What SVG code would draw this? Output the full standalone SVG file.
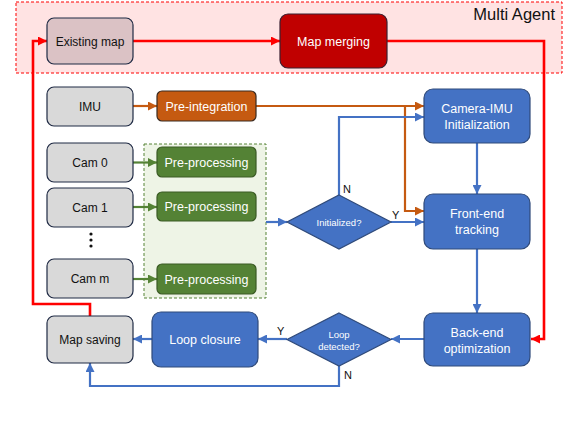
<svg xmlns="http://www.w3.org/2000/svg" width="564" height="422" viewBox="0 0 564 422">
<style>
.t{font-family:"Liberation Sans",Arial,sans-serif;text-anchor:middle}
.dk{fill:#111}
.wt{fill:#fff}
.gray{fill:#D9D9D9;stroke:#1F2A44;stroke-width:1.2}
.blue{fill:#4472C4;stroke:#2F4A7A;stroke-width:1.2}
.green{fill:#548235;stroke:#3A5A24;stroke-width:1.2}
.orange{fill:#C55A11;stroke:#3A2A20;stroke-width:1.2}
.red{fill:#C00000;stroke:#3A2030;stroke-width:1.2}
.lr{fill:none;stroke:#FF0000;stroke-width:2.6}
.lo{fill:none;stroke:#C55A11;stroke-width:2.2}
.lb{fill:none;stroke:#4472C4;stroke-width:2.2}
.lg{fill:none;stroke:#548235;stroke-width:2.2}
.lbl{font-family:"Liberation Sans",Arial,sans-serif;font-size:11px;fill:#111}
</style>
<defs>
<marker id="ar" viewBox="0 0 10 10" refX="10" refY="5" markerWidth="9" markerHeight="9" markerUnits="userSpaceOnUse" orient="auto"><path d="M0,0 L10,5 L0,10 z" fill="#FF0000"/></marker>
<marker id="ao" viewBox="0 0 10 10" refX="10" refY="5" markerWidth="9" markerHeight="9" markerUnits="userSpaceOnUse" orient="auto"><path d="M0,0 L10,5 L0,10 z" fill="#C55A11"/></marker>
<marker id="ab" viewBox="0 0 10 10" refX="10" refY="5" markerWidth="9" markerHeight="9" markerUnits="userSpaceOnUse" orient="auto"><path d="M0,0 L10,5 L0,10 z" fill="#4472C4"/></marker>
<marker id="ag" viewBox="0 0 10 10" refX="10" refY="5" markerWidth="9" markerHeight="9" markerUnits="userSpaceOnUse" orient="auto"><path d="M0,0 L10,5 L0,10 z" fill="#548235"/></marker>
</defs>
<rect width="564" height="422" fill="#fff"/>
<g id="multi-agent">
<rect x="16" y="2" width="546" height="71" fill="#FFE3E3" stroke="#FF0000" stroke-width="1" stroke-dasharray="3,2"/>
<text x="555" y="20" font-family="Liberation Sans,Arial,sans-serif" font-size="16.5" text-anchor="end" fill="#111">Multi Agent</text>
</g>
<g id="camera-group">
<rect x="144" y="144" width="122" height="154" fill="#EEF4E6" stroke="#548235" stroke-width="1" stroke-dasharray="3,2"/>
</g>
<g id="connectors">
<path class="lr" d="M133,41 H280" marker-end="url(#ar)"/>
<path class="lr" d="M387,41 H544 V339 H531" marker-end="url(#ar)"/>
<path class="lr" d="M90,316 V304 H33 V41 H47" marker-end="url(#ar)"/>
<path class="lo" d="M133,106 H157" marker-end="url(#ao)"/>
<path class="lo" d="M256,106 H424" marker-end="url(#ao)"/>
<path class="lo" d="M405,106 V211 H424" marker-end="url(#ao)"/>
<path class="lg" d="M133,162.5 H157" marker-end="url(#ag)"/>
<path class="lg" d="M133,207 H157" marker-end="url(#ag)"/>
<path class="lg" d="M133,279 H157" marker-end="url(#ag)"/>
<path class="lb" d="M339,195 V117 H424" marker-end="url(#ab)"/>
<path class="lb" d="M266,222 H287" marker-end="url(#ab)"/>
<path class="lb" d="M391,222 H424" marker-end="url(#ab)"/>
<path class="lb" d="M477,143 V194" marker-end="url(#ab)"/>
<path class="lb" d="M477,249 V313" marker-end="url(#ab)"/>
<path class="lb" d="M424,339 H391" marker-end="url(#ab)"/>
<path class="lb" d="M287,339 H258" marker-end="url(#ab)"/>
<path class="lb" d="M152,339 H133" marker-end="url(#ab)"/>
<path class="lb" d="M339,366 V386 H90 V363" marker-end="url(#ab)"/>
<text class="lbl" x="343" y="193">N</text>
<text class="lbl" x="392" y="219">Y</text>
<text class="lbl" x="277" y="335">Y</text>
<text class="lbl" x="344" y="379">N</text>
</g>
<g id="existing-map"><rect class="gray" x="47" y="18" width="86" height="46" rx="7" fill="#DBC2C5" style="fill:#DBC2C5"/><text class="t dk" x="90" y="45.5" font-size="12">Existing map</text></g>
<g id="map-merging"><rect class="red" x="280" y="14" width="107" height="54" rx="8"/><text class="t wt" x="333.5" y="45.5" font-size="12.5">Map merging</text></g>
<g id="imu"><rect class="gray" x="47" y="87" width="86" height="39" rx="7"/><text class="t dk" x="90" y="111" font-size="12">IMU</text></g>
<g id="pre-integration"><rect class="orange" x="157" y="91" width="99" height="30" rx="5"/><text class="t wt" x="206.5" y="110.5" font-size="12.5">Pre-integration</text></g>
<g id="cam0"><rect class="gray" x="47" y="143" width="86" height="39" rx="7"/><text class="t dk" x="90" y="167" font-size="12">Cam 0</text></g>
<g id="cam1"><rect class="gray" x="47" y="188" width="86" height="39" rx="7"/><text class="t dk" x="90" y="212" font-size="12">Cam 1</text></g>
<g id="dots"><circle cx="91" cy="234" r="1.6" fill="#111"/><circle cx="91" cy="240" r="1.6" fill="#111"/><circle cx="91" cy="246" r="1.6" fill="#111"/></g>
<g id="camm"><rect class="gray" x="47" y="259" width="86" height="39" rx="7"/><text class="t dk" x="90" y="283" font-size="12">Cam m</text></g>
<g id="pre-processing-0"><rect class="green" x="157" y="147" width="99" height="30" rx="5"/><text class="t wt" x="206.5" y="166.5" font-size="12.5">Pre-processing</text></g>
<g id="pre-processing-1"><rect class="green" x="157" y="192" width="99" height="29" rx="5"/><text class="t wt" x="206.5" y="211" font-size="12.5">Pre-processing</text></g>
<g id="pre-processing-m"><rect class="green" x="157" y="264" width="99" height="30" rx="5"/><text class="t wt" x="206.5" y="283.5" font-size="12.5">Pre-processing</text></g>
<g id="camera-imu-init"><rect class="blue" x="424" y="89" width="106" height="54" rx="9"/><text class="t wt" x="477" y="113" font-size="12.5">Camera-IMU</text><text class="t wt" x="477" y="129" font-size="12.5">Initialization</text></g>
<g id="initialized"><polygon class="blue" points="339,195 391,222 339,249 287,222"/><text class="t wt" x="339" y="225.5" font-size="9.5">Initialized?</text></g>
<g id="front-end"><rect class="blue" x="424" y="194" width="106" height="55" rx="9"/><text class="t wt" x="477" y="218" font-size="12.5">Front-end</text><text class="t wt" x="477" y="234" font-size="12.5">tracking</text></g>
<g id="back-end"><rect class="blue" x="424" y="313" width="106" height="53" rx="9"/><text class="t wt" x="477" y="336.5" font-size="12.5">Back-end</text><text class="t wt" x="477" y="352.5" font-size="12.5">optimization</text></g>
<g id="loop-detected"><polygon class="blue" points="339,313 391,339.5 339,366 287,339.5"/><text class="t wt" x="339" y="337.5" font-size="9.5">Loop</text><text class="t wt" x="339" y="349.5" font-size="9.5">detected?</text></g>
<g id="loop-closure"><rect class="blue" x="152" y="312" width="106" height="55" rx="9"/><text class="t wt" x="205" y="344" font-size="12.5">Loop closure</text></g>
<g id="map-saving"><rect class="gray" x="47" y="316" width="86" height="47" rx="7"/><text class="t dk" x="90" y="344" font-size="12">Map saving</text></g>
</svg>
